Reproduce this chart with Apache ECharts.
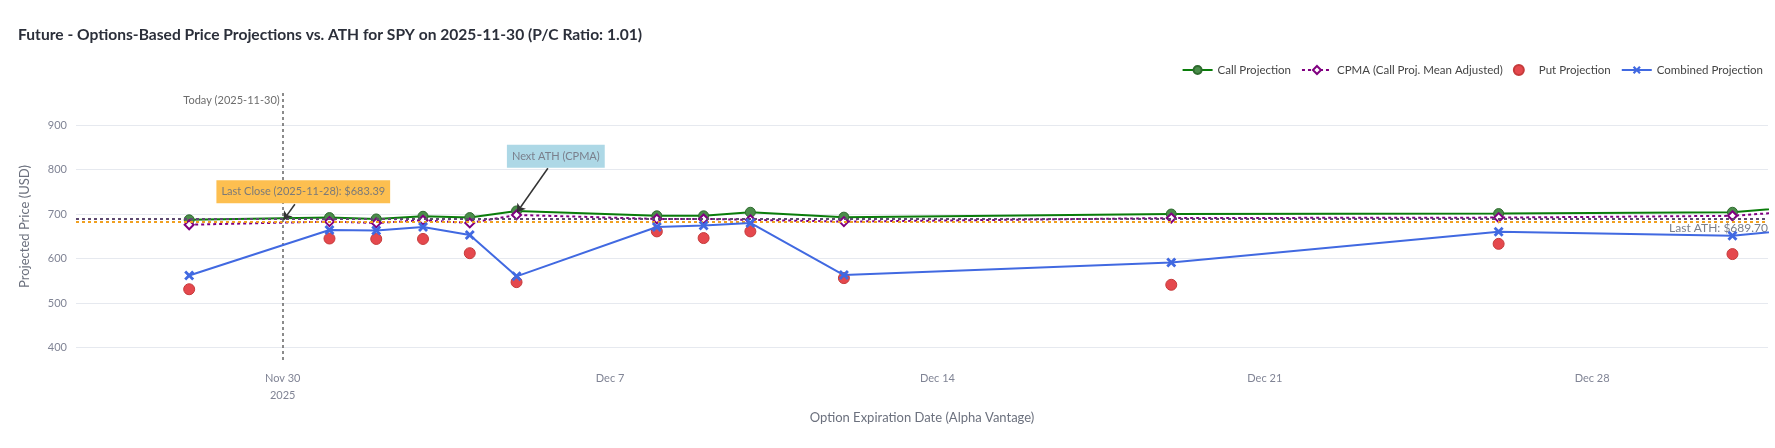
<!DOCTYPE html>
<html>
<head>
<meta charset="utf-8">
<title>SPY Options-Based Price Projections</title>
<script src="https://cdn.jsdelivr.net/npm/echarts@6.0.0/dist/echarts.min.js"></script>
<style>
  html, body { margin: 0; padding: 0; background: #fff; }
  #main { width: 1775px; height: 448px; }
</style>
</head>
<body>
<div id="main"></div>
<script>
// expiration dates and projections
var expiryDates = ['2025-11-28', '2025-12-01', '2025-12-02', '2025-12-03', '2025-12-04', '2025-12-05',
    '2025-12-08', '2025-12-09', '2025-12-10', '2025-12-12', '2025-12-19', '2025-12-26', '2025-12-31', '2026-01-02'];
var callProj = [687, 692, 689, 695, 692, 707, 696, 696, 704, 693, 700, 701, 704, 721];
var cpmaProj = [676, 683, 680, 686, 680, 698, 689, 689, 687, 683, 691, 692, 696, 711];
var putProj = [531, 645, 644, 644, 612, 547, 661, 646, 661, 556, 541, 633, 610, null];
var combinedProj = [562, 664, 663, 671, 653, 560, 671, 674, 680, 563, 591, 660, 651, 672];

var lastAth = 689.70;
var lastClose = 683.39;
var todayDate = '2025-11-30';

var xTickDates = ['2025-11-30', '2025-12-07', '2025-12-14', '2025-12-21', '2025-12-28'];
var xTickLabels = ['Nov 30\n2025', 'Dec 7', 'Dec 14', 'Dec 21', 'Dec 28'];
var yTicks = [400, 500, 600, 700, 800, 900];

var FONT = 'Lato, "Open Sans", sans-serif';
var myChart = echarts.init(document.getElementById('main'));

function ts(s) {
    var p = s.split('-');
    return Date.UTC(+p[0], +p[1] - 1, +p[2]);
}

function pairs(values) {
    var out = [];
    for (var i = 0; i < expiryDates.length; i++) {
        if (values[i] != null) out.push([ts(expiryDates[i]), values[i]]);
    }
    return out;
}

var xTickStamps = xTickDates.map(ts);
var DAY = 24 * 3600 * 1000;
var todayTs = ts(todayDate);
var dec5 = ts('2025-12-05');

// plotly style "x" marker
var xSymbol = 'path://M2,0 L5,3 L8,0 L10,2 L7,5 L10,8 L8,10 L5,7 L2,10 L0,8 L3,5 L0,2 Z';

option = {
    animation: false,
    textStyle: { fontFamily: FONT },
    title: {
        text: 'Future - Options-Based Price Projections vs. ATH for SPY on 2025-11-30 (P/C Ratio: 1.01)',
        left: 18,
        top: 27,
        padding: 0,
        textStyle: { fontFamily: FONT, fontSize: 15.6, fontWeight: 'bold', color: '#2b2f3a' }
    },
    legend: {
        data: ['Call Projection', 'CPMA (Call Proj. Mean Adjusted)', 'Put Projection', 'Combined Projection'],
        right: 12,
        top: 64,
        padding: 0,
        itemWidth: 30,
        itemHeight: 10,
        itemGap: 10,
        textStyle: { fontFamily: FONT, fontSize: 11.5, color: '#444' }
    },
    grid: {
        left: 76,
        right: 7,
        top: 93,
        bottom: 88,
        containLabel: false
    },
    xAxis: {
        type: 'value',
        min: todayTs - 4.42 * DAY,
        max: todayTs + 31.76 * DAY,
        name: 'Option Expiration Date (Alpha Vantage)',
        nameLocation: 'middle',
        nameGap: 51,
        nameTextStyle: { fontFamily: FONT, fontSize: 13, color: '#6c717e' },
        axisLine: { show: false },
        axisTick: { show: false, customValues: xTickStamps },
        splitLine: { show: false },
        axisLabel: {
            customValues: xTickStamps,
            margin: 10,
            fontFamily: FONT,
            fontSize: 11,
            color: '#808495',
            lineHeight: 17,
            formatter: function (value) {
                for (var i = 0; i < xTickStamps.length; i++) {
                    if (Math.abs(xTickStamps[i] - value) < 3600 * 1000) return xTickLabels[i];
                }
                return '';
            }
        }
    },
    yAxis: {
        type: 'value',
        min: 372,
        max: 972,
        name: 'Projected Price (USD)',
        nameLocation: 'middle',
        nameGap: 45,
        nameTextStyle: { fontFamily: FONT, fontSize: 13, color: '#6c717e' },
        axisLine: { show: false },
        axisTick: { show: false, customValues: yTicks },
        axisLabel: { customValues: yTicks, margin: 9, fontFamily: FONT, fontSize: 11, color: '#808495' },
        splitLine: { show: true, lineStyle: { color: '#e6e9ef', width: 1 } }
    },
    series: [
        {
            name: 'Call Projection',
            type: 'line',
            data: pairs(callProj),
            symbol: 'circle',
            symbolSize: 10,
            color: '#0a7d0a',
            lineStyle: { color: '#0a7d0a', width: 2 },
            itemStyle: { color: '#4a8c4a', borderColor: '#2e6b2e', borderWidth: 1, opacity: 1 },
            z: 3
        },
        {
            name: 'CPMA (Call Proj. Mean Adjusted)',
            type: 'line',
            data: pairs(cpmaProj),
            symbol: 'emptyDiamond',
            symbolSize: 9,
            color: '#800080',
            lineStyle: { color: '#800080', width: 2, type: [3, 3] },
            itemStyle: { color: '#800080', borderColor: '#800080', borderWidth: 1 },
            z: 4
        },
        {
            name: 'Put Projection',
            type: 'scatter',
            data: pairs(putProj),
            symbol: 'circle',
            symbolSize: 11,
            color: '#e5484d',
            itemStyle: { color: '#e5484d', borderColor: '#c53b3b', borderWidth: 1, opacity: 1 },
            z: 5
        },
        {
            name: 'Combined Projection',
            type: 'line',
            data: pairs(combinedProj),
            symbol: xSymbol,
            symbolSize: 10,
            color: '#4169e1',
            lineStyle: { color: '#4169e1', width: 2 },
            itemStyle: { color: '#4169e1', opacity: 1 },
            z: 6
        },
        {
            // reference lines and annotations
            name: 'annotations',
            type: 'line',
            data: [],
            z: 7,
            markLine: {
                silent: true,
                symbol: 'none',
                animation: false,
                data: [
                    {
                        yAxis: lastAth,
                        lineStyle: { color: '#5e4a70', width: 2, type: [3, 3] },
                        label: {
                            show: true,
                            position: 'insideEndBottom',
                            distance: [0, 4],
                            formatter: 'Last ATH: $' + lastAth.toFixed(2),
                            fontFamily: FONT, fontSize: 12, color: '#7a7f8c'
                        }
                    },
                    {
                        yAxis: lastClose,
                        lineStyle: { color: '#f0a020', width: 2, type: [3, 3] },
                        label: { show: false }
                    },
                    {
                        xAxis: todayTs,
                        lineStyle: { color: '#666', width: 1.5, type: [3, 3] },
                        label: { show: false }
                    },
                    [
                        { coord: [todayTs + 0.26 * DAY, 722], symbol: 'none' },
                        { coord: [todayTs + 0.02 * DAY, 687], symbol: 'arrow', symbolSize: 8,
                          lineStyle: { color: '#333', width: 1.5, type: 'solid' }, label: { show: false } }
                    ],
                    [
                        { coord: [dec5 + 0.67 * DAY, 803], symbol: 'none' },
                        { coord: [dec5 + 0.01 * DAY, 704], symbol: 'arrow', symbolSize: 8,
                          lineStyle: { color: '#333', width: 1.5, type: 'solid' }, label: { show: false } }
                    ]
                ]
            },
            markPoint: {
                silent: true,
                symbol: 'circle',
                symbolSize: 0,
                animation: false,
                data: [
                    {
                        coord: [todayTs, 972],
                        label: {
                            show: true, position: 'left', distance: 3, offset: [0, 7],
                            formatter: 'Today (' + todayDate + ')',
                            fontFamily: FONT, fontSize: 11, color: '#6d6d6d'
                        }
                    },
                    {
                        coord: [todayTs + 0.44 * DAY, 750],
                        label: {
                            show: true, position: 'inside',
                            formatter: 'Last Close (2025-11-28): $' + lastClose.toFixed(2),
                            backgroundColor: '#fdbf50', padding: [6, 5],
                            fontFamily: FONT, fontSize: 11, color: '#7a7a7a'
                        }
                    },
                    {
                        coord: [dec5 + 0.84 * DAY, 830],
                        label: {
                            show: true, position: 'inside',
                            formatter: 'Next ATH (CPMA)',
                            backgroundColor: '#add8e6', padding: [6, 5],
                            fontFamily: FONT, fontSize: 11, color: '#7a7f8c'
                        }
                    }
                ]
            }
        }
    ]
};

myChart.setOption(option);
</script>
</body>
</html>
